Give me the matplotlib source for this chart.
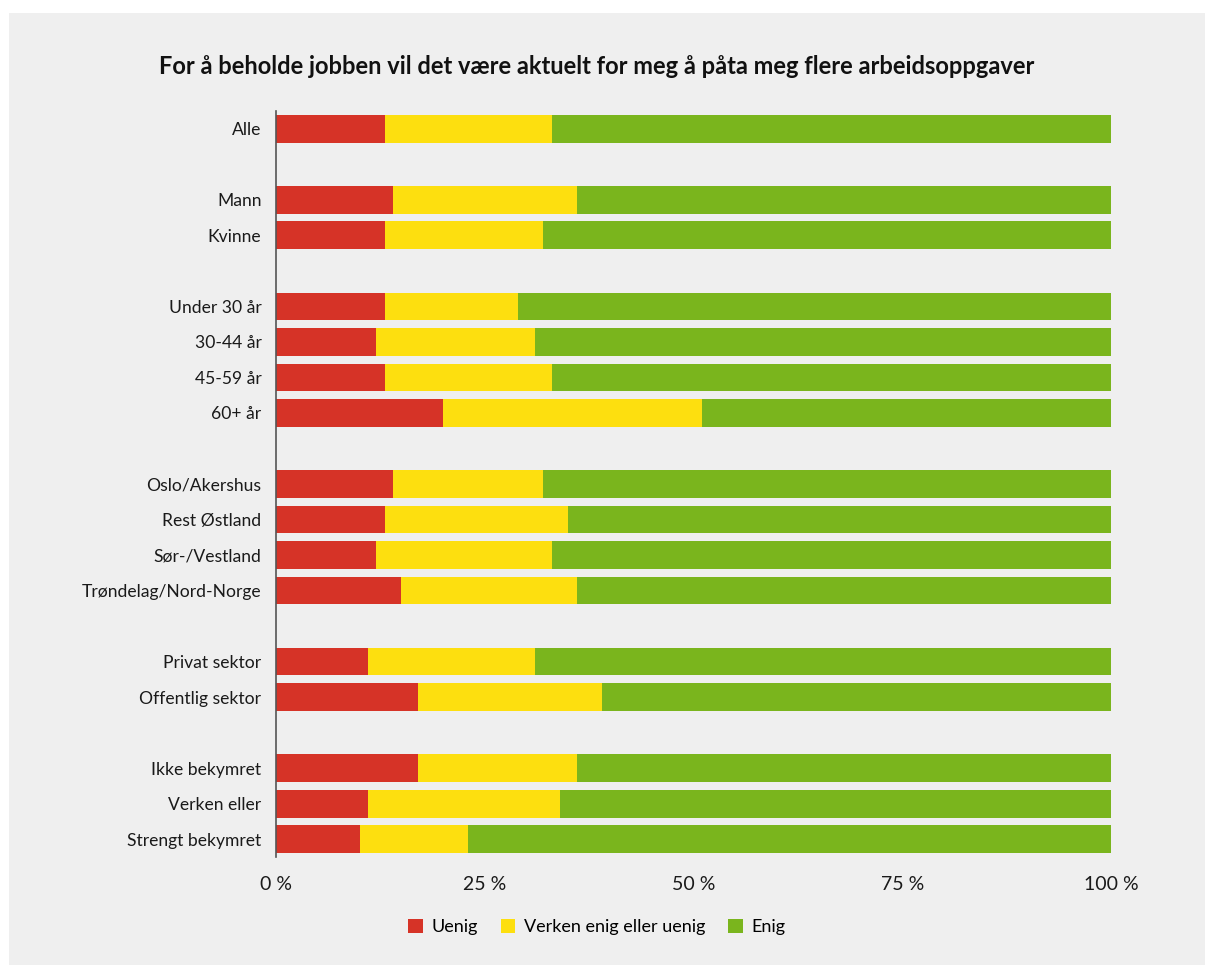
import matplotlib
matplotlib.use("Agg")
import matplotlib.pyplot as plt
from matplotlib.patches import Rectangle

# data (percent)
labels = ["Alle", "Mann", "Kvinne", "Under 30 år", "30-44 år", "45-59 år", "60+ år",
          "Oslo/Akershus", "Rest Østland", "Sør-/Vestland", "Trøndelag/Nord-Norge",
          "Privat sektor", "Offentlig sektor",
          "Ikke bekymret", "Verken eller", "Strengt bekymret"]
uenig = [13, 14, 13, 13, 12, 13, 20, 14, 13, 12, 15, 11, 17, 17, 11, 10]
verken = [20, 22, 19, 16, 19, 20, 31, 18, 22, 21, 21, 20, 22, 19, 23, 13]
enig = [67, 64, 68, 71, 69, 67, 49, 68, 65, 67, 64, 69, 61, 64, 66, 77]
# row slots, with an empty slot between groups
rows = [0, 2, 3, 5, 6, 7, 8, 10, 11, 12, 13, 15, 16, 18, 19, 20]
series_names = ["Uenig", "Verken enig eller uenig", "Enig"]
xticks = [0, 25, 50, 75, 100]

colors = ["#d63327", "#fddf0f", "#7ab51d"]
bg = "#efefef"

plt.rcParams['font.family'] = ['Lato', 'DejaVu Sans']

fig = plt.figure(figsize=(12.05, 9.65), dpi=100)
fig.patch.set_facecolor("white")
fig.patches.append(Rectangle((9 / 1205, 0), 1 - 9 / 1205, 1 - 13 / 965,
                             transform=fig.transFigure, facecolor=bg,
                             edgecolor="none", zorder=-10))

ax = fig.add_axes([276 / 1205, 1 - 857 / 965, 835 / 1205, (857 - 111) / 965])
ax.set_facecolor("none")

left = [0] * len(labels)
for vals, name, c in zip([uenig, verken, enig], series_names, colors):
    ax.barh(rows, vals, left=left, height=0.78, color=c, label=name, linewidth=0)
    left = [a + b for a, b in zip(left, vals)]

ax.set_ylim(20.5, -0.5)
ax.set_xlim(0, 100)
ax.set_yticks(rows)
ax.set_yticklabels(labels, fontsize=12.6, color="#1a1a1a")
ax.set_xticks(xticks)
ax.set_xticklabels([f"{t} %" for t in xticks], fontsize=14, color="#1a1a1a")
ax.tick_params(axis="y", length=0, pad=10.5)
ax.tick_params(axis="x", length=0, pad=14)
for s in ["top", "right", "bottom"]:
    ax.spines[s].set_visible(False)
ax.spines["left"].set_color("#555555")
ax.spines["left"].set_linewidth(1.2)

fig.text(597 / 1205, 1 - 66 / 965,
         "For å beholde jobben vil det være aktuelt for meg å påta meg flere arbeidsoppgaver",
         ha="center", va="center", fontsize=17, fontweight="bold", color="#111111")

fig.legend(loc="center", bbox_to_anchor=(597 / 1205, 1 - 927 / 965), ncol=3,
           frameon=False, fontsize=13, handlelength=0.8, handleheight=0.8,
           handletextpad=0.5, columnspacing=1.25)

fig.savefig("out.png", dpi=100, facecolor=fig.get_facecolor())
